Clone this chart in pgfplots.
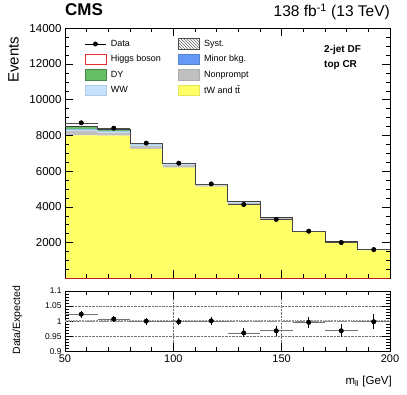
\documentclass[border=0pt]{standalone}
\usepackage{fontspec}
\setmainfont{Liberation Sans}
\usepackage{pgfplots}
\pgfplotsset{compat=1.18}
\usepackage{pgfplotstable}
\usetikzlibrary{patterns}

\definecolor{ttcol}{RGB}{255,255,102}
\definecolor{npcol}{RGB}{192,192,192}
\definecolor{wwcol}{RGB}{198,226,255}
\definecolor{micol}{RGB}{102,153,245}
\definecolor{dycol}{RGB}{102,190,102}
\definecolor{hgcol}{RGB}{235,45,45}

% backgrounds per bin (lower edge), last row repeated to close the steps
\pgfplotstableread{
lo   tt    np   ww  mi  dy   hg
50   8000  250  60  30  150  20
65   7990  170  50  25  100  15
80   7250  170  60  25  50   15
95   6200  140  50  25  30   15
110  5130  80   30  15  15   10
125  4130  80   50  20  10   10
140  3320  45   25  10  5    5
155  2590  30   15  7   3    5
170  2020  25   12  6   2    5
185  1570  20   10  5   2    3
200  1570  20   10  5   2    3
}\stacktab

\pgfplotstableread{
lo   tot
50   8510
65   8350
80   7570
95   6460
110  5280
125  4300
140  3410
155  2650
170  2070
185  1610
200  1610
}\tottab

\pgfplotstableread{
x      y     ex   ey   r      er
57.5   8706  7.5  93   1.023  0.011
72.5   8406  7.5  92   1.007  0.011
87.5   7570  7.5  87   1.000  0.012
102.5  6447  7.5  80   0.998  0.012
117.5  5285  7.5  73   1.001  0.014
132.5  4132  7.5  64   0.961  0.015
147.5  3301  7.5  57   0.968  0.017
162.5  2639  7.5  51   0.996  0.019
177.5  2004  7.5  45   0.968  0.022
192.5  1607  7.5  40   0.998  0.025
}\datatab

\pgfplotsset{
  panel/.style={at={(65pt,116.7pt)}, anchor=south west, scale only axis,
    width=325pt, height=250pt, xmin=50, xmax=200, ymin=0, ymax=14000},
}

\begin{document}
\begin{tikzpicture}
\useasboundingbox (0,0) rectangle (407pt,395pt);

% stacked histogram
\begin{axis}[
  panel,
  stack plots=y, const plot, axis on top,
  xtick={50,100,150,200}, xticklabels={}, minor x tick num=4,
  ytick={0,2000,...,14000},
  yticklabels={,2000,4000,6000,8000,10000,12000,14000},
  scaled y ticks=false,
  minor y tick num=3,
  major tick length=8pt, minor tick length=4pt,
  tick style={black, line width=0.5pt},
  yticklabel style={font=\fontsize{11.5}{12}\selectfont},
  axis line style={line width=0.7pt},
]
\addplot[fill=ttcol, draw=none] table[x=lo,y=tt]{\stacktab} \closedcycle;
\addplot[fill=npcol, draw=none] table[x=lo,y=np]{\stacktab} \closedcycle;
\addplot[fill=wwcol, draw=none] table[x=lo,y=ww]{\stacktab} \closedcycle;
\addplot[fill=micol, draw=none] table[x=lo,y=mi]{\stacktab} \closedcycle;
\addplot[fill=dycol, draw=none] table[x=lo,y=dy]{\stacktab} \closedcycle;
\addplot[fill=white, draw=hgcol, line width=0.4pt] table[x=lo,y=hg]{\stacktab} \closedcycle;
\end{axis}

% data, total, legend
\begin{axis}[
  panel, hide axis,
  legend columns=2, legend cell align=left,
  legend style={draw=none, fill=none, inner sep=0pt, outer sep=0pt,
    at={(0.06,0.9596)}, anchor=north west,
    font=\fontsize{9}{10}\selectfont,
    nodes={inner sep=1.5pt},
    row sep=4.1pt,
    /tikz/every odd column/.append style={column sep=3pt},
    /tikz/every even column/.append style={column sep=15.6pt}},
]
\addlegendimage{legend image code/.code={
  \path[draw=none, fill=none] (0pt,-5.3pt) rectangle (21pt,5.3pt);
  \draw[black, line width=0.6pt] (0pt,0pt) -- (21pt,0pt);
  \fill[black] (10.5pt,0pt) circle (2.2pt);}}
\addlegendentry{Data}
\addlegendimage{legend image code/.code={
  \draw[pattern=north west lines, pattern color=black!60, draw=black!70, line width=0.6pt] (0pt,-5.3pt) rectangle (21pt,5.3pt);}}
\addlegendentry{Syst.}
\addlegendimage{legend image code/.code={
  \draw[fill=white, draw=hgcol, line width=0.8pt] (0pt,-5.3pt) rectangle (21pt,5.3pt);}}
\addlegendentry{Higgs boson}
\addlegendimage{legend image code/.code={
  \draw[fill=micol, draw=micol!85!black, line width=0.6pt] (0pt,-5.3pt) rectangle (21pt,5.3pt);}}
\addlegendentry{Minor bkg.}
\addlegendimage{legend image code/.code={
  \draw[fill=dycol, draw=dycol!70!black, line width=0.6pt] (0pt,-5.3pt) rectangle (21pt,5.3pt);}}
\addlegendentry{DY}
\addlegendimage{legend image code/.code={
  \draw[fill=npcol, draw=npcol!90!black, line width=0.6pt] (0pt,-5.3pt) rectangle (21pt,5.3pt);}}
\addlegendentry{Nonprompt}
\addlegendimage{legend image code/.code={
  \draw[fill=wwcol, draw=wwcol!90!black, line width=0.6pt] (0pt,-5.3pt) rectangle (21pt,5.3pt);}}
\addlegendentry{WW}
\addlegendimage{legend image code/.code={
  \draw[fill=ttcol, draw=ttcol!90!black, line width=0.6pt] (0pt,-5.3pt) rectangle (21pt,5.3pt);}}
\addlegendentry{tW and t\={t}}

\addplot[forget plot, const plot, draw=black!75, line width=0.6pt] table[x=lo,y=tot]{\tottab};
\addplot[forget plot, hgcol!75!black, line width=1pt] coordinates {(50,0) (200,0)};
\addplot[forget plot, only marks, mark=none,
  error bars/.cd, x dir=both, x explicit, error mark=none,
  error bar style={black!70, line width=0.6pt}] table[x=x,y=y,x error=ex]{\datatab};
\addplot[forget plot, only marks, mark=*, mark size=2.2pt, black,
  error bars/.cd, y dir=both, y explicit, error mark=none,
  error bar style={line width=0.6pt}] table[x=x,y=y,y error=ey]{\datatab};
\end{axis}

% ratio panel
\begin{axis}[
  at={(65pt,43.7pt)}, anchor=south west, scale only axis,
  width=325pt, height=60.3pt,
  xmin=50, xmax=200, ymin=0.9, ymax=1.1,
  xtick={50,100,150,200}, xticklabels={50,100,150,200}, minor x tick num=4,
  ytick={0.9,0.95,1,1.05,1.1}, yticklabels={0.9,0.95,1,1.05,1.1},
  minor y tick num=4,
  major tick length=8pt, minor tick length=4pt,
  tick style={black, line width=0.5pt},
  grid=major, major grid style={densely dotted, black!55, line width=0.4pt},
  xticklabel style={font=\fontsize{11}{12}\selectfont},
  yticklabel style={font=\fontsize{8.4}{9}\selectfont},
  axis line style={line width=0.7pt},
]
\addplot[black!40, line width=1.8pt, densely dotted] coordinates {(50,1) (200,1)};
\addplot[only marks, mark=none,
  error bars/.cd, x dir=both, x explicit, error mark=none,
  error bar style={black!55, line width=0.6pt}] table[x=x,y=r,x error=ex]{\datatab};
\addplot[only marks, mark=*, mark size=2.2pt, black,
  error bars/.cd, y dir=both, y explicit, error mark=none,
  error bar style={line width=0.6pt}] table[x=x,y=r,y error=er]{\datatab};
\end{axis}

\node[anchor=base west, font=\fontsize{17}{17}\selectfont\bfseries, inner sep=0pt] at (65pt,379pt) {CMS};
\node[anchor=base east, font=\fontsize{15.5}{16}\selectfont, inner sep=0pt] at (390pt,378.5pt) {138 fb\textsuperscript{-1} (13 TeV)};
\node[rotate=90, anchor=north east, font=\fontsize{15}{15}\selectfont, inner sep=0pt] at (8pt,358.3pt) {Events};
\node[rotate=90, font=\fontsize{10.5}{11}\selectfont, inner sep=0pt] at (17.5pt,75pt) {Data/Expected};
\node[anchor=base east, font=\fontsize{11.5}{12}\selectfont, inner sep=0pt] at (392pt,10pt) {m\textsubscript{ll} [GeV]};
\node[anchor=base west, font=\fontsize{10}{10}\selectfont\bfseries, inner sep=0pt] at (324pt,342pt) {2-jet DF};
\node[anchor=base west, font=\fontsize{10}{10}\selectfont\bfseries, inner sep=0pt] at (324pt,327pt) {top CR};
\end{tikzpicture}
\end{document}
